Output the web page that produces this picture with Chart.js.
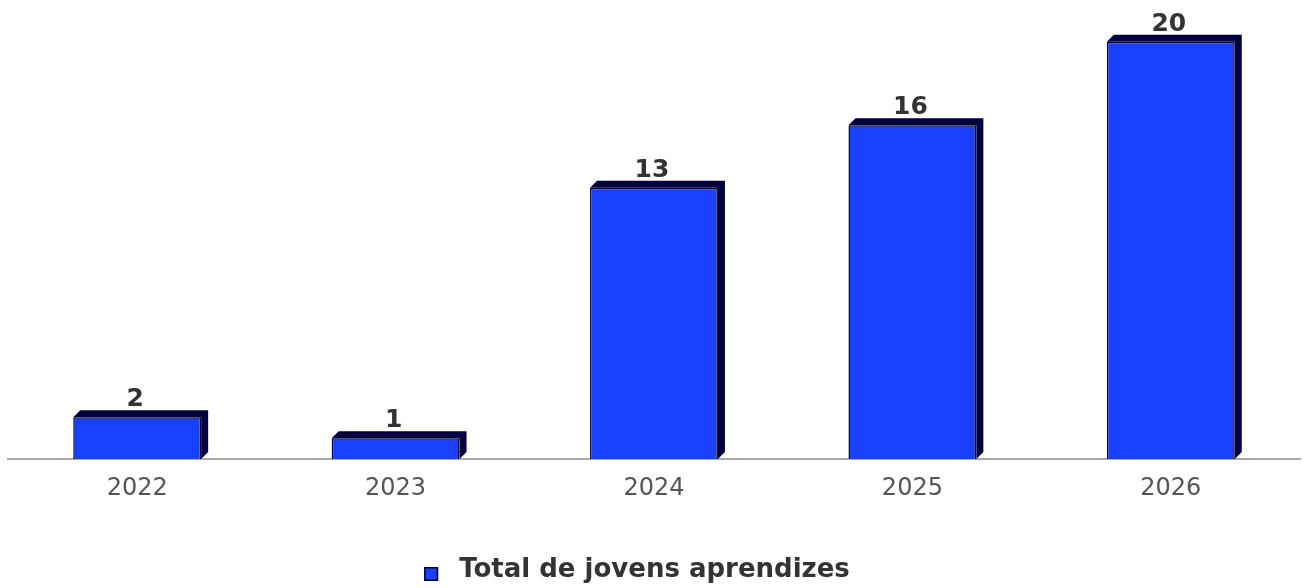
<!DOCTYPE html>
<html>
<head>
<meta charset="utf-8">
<script src="https://cdn.jsdelivr.net/npm/chart.js@4"></script>
<style>
  html, body { margin: 0; padding: 0; background: #fff; }
  #wrap { width: 1303px; height: 588px; }
</style>
</head>
<body>
<div id="wrap"><canvas id="jovensChart"></canvas></div>
<script>
// dados do gráfico
const years = ['2022', '2023', '2024', '2025', '2026'];
const jovens = [2, 1, 13, 16, 20];
const seriesLabel = 'Total de jovens aprendizes';
const yMax = 22;

const frontColor = '#1a40ff';
const sideColor = '#00003f';
const depth = 7;

Chart.defaults.font.family = '"DejaVu Sans", sans-serif';

// efeito 3D: topo e lateral escuros atrás da face frontal
const bar3d = {
  id: 'bar3d',
  beforeDatasetsDraw(chart) {
    const ctx = chart.ctx;
    const meta = chart.getDatasetMeta(0);
    ctx.save();
    ctx.fillStyle = sideColor;
    meta.data.forEach(bar => {
      const { x, y, base, width } = bar.getProps(['x', 'y', 'base', 'width'], true);
      const left = x - width / 2;
      const right = x + width / 2;
      ctx.beginPath();
      ctx.moveTo(left, y);
      ctx.lineTo(left + depth, y - depth);
      ctx.lineTo(right + depth, y - depth);
      ctx.lineTo(right + depth, base - depth);
      ctx.lineTo(right, base);
      ctx.lineTo(right, y);
      ctx.closePath();
      ctx.fill();
    });
    ctx.restore();
  }
};

// valores em cima das barras
const valueLabels = {
  id: 'valueLabels',
  afterDatasetsDraw(chart) {
    const ctx = chart.ctx;
    const meta = chart.getDatasetMeta(0);
    ctx.save();
    ctx.font = 'bold 25px "DejaVu Sans"';
    ctx.fillStyle = '#333';
    ctx.textAlign = 'center';
    ctx.textBaseline = 'alphabetic';
    meta.data.forEach((bar, i) => {
      ctx.fillText(String(jovens[i]), bar.x - 2, bar.y - depth - 4);
    });
    ctx.restore();
  }
};

// quadradinho da legenda, um pouco afastado do texto
const legendBox = {
  id: 'legendBox',
  afterDraw(chart) {
    const boxes = chart.legend && chart.legend.legendHitBoxes;
    if (!boxes || !boxes.length) return;
    const hb = boxes[0];
    const ctx = chart.ctx;
    const left = hb.left - 34;
    const top = hb.top + hb.height / 2 - 3;
    ctx.save();
    ctx.fillStyle = frontColor;
    ctx.fillRect(left, top, 14, 14);
    ctx.strokeStyle = '#000022';
    ctx.lineWidth = 1.5;
    ctx.strokeRect(left + 0.75, top + 0.75, 12.5, 12.5);
    ctx.restore();
  }
};

const ctx = document.getElementById('jovensChart').getContext('2d');
new Chart(ctx, {
  type: 'bar',
  data: {
    labels: years,
    datasets: [{
      label: seriesLabel,
      data: jovens,
      backgroundColor: frontColor,
      borderColor: '#000020',
      borderWidth: 1.5,
      barPercentage: 0.495,
      categoryPercentage: 1
    }]
  },
  options: {
    responsive: true,
    maintainAspectRatio: false,
    animation: false,
    layout: { padding: { left: 8, right: 3, top: 0, bottom: -5 } },
    scales: {
      x: {
        grid: { display: false, drawTicks: false },
        border: { display: true, color: '#aaa', width: 2 },
        ticks: { color: '#555', font: { size: 24 }, padding: 15 },
        afterFit(scale) { scale.height = 88; }
      },
      y: {
        display: false,
        min: 0,
        max: yMax
      }
    },
    plugins: {
      tooltip: { enabled: false },
      legend: {
        position: 'bottom',
        labels: {
          color: '#333',
          font: { size: 26, weight: 'bold' },
          usePointStyle: true,
          pointStyleWidth: -12,
          padding: 10
        }
      }
    }
  },
  plugins: [bar3d, valueLabels, legendBox]
});
</script>
</body>
</html>
